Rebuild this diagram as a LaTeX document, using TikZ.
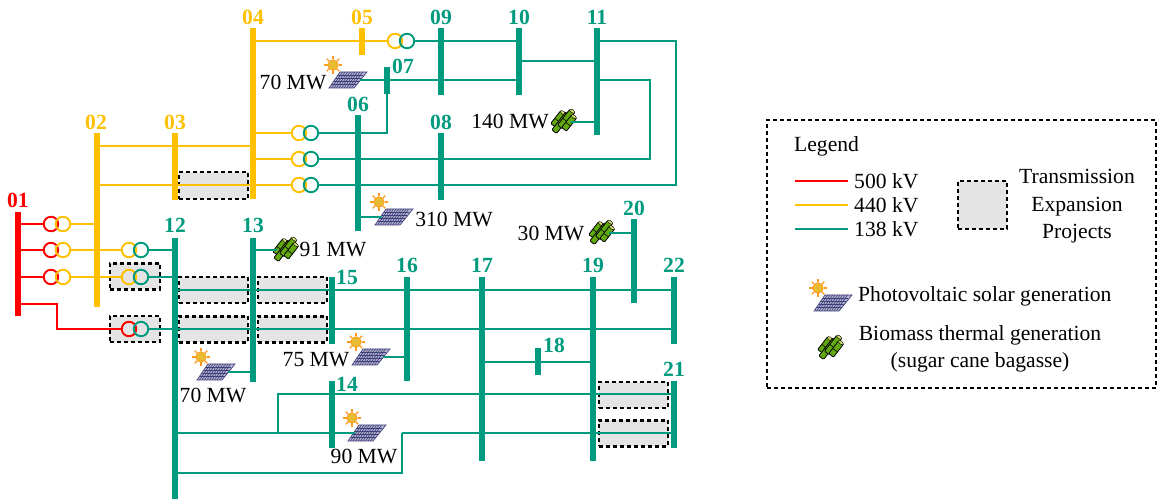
\documentclass[tikz,border=0pt]{standalone}
\usepackage{fontspec}
\setmainfont{Liberation Serif}
\usepackage{xcolor}
\usepackage{tikz}
\usetikzlibrary{shapes.geometric, arrows}
\usetikzlibrary{positioning}
\definecolor{busRed}{HTML}{FF0000}
\definecolor{busYellow}{HTML}{FFC000}
\definecolor{busTeal}{HTML}{009A7E}
\definecolor{boxGray}{HTML}{E4E4E4}
\definecolor{panelBlue}{HTML}{3E3E7C}
\definecolor{panelLight}{HTML}{B4B4CC}
\definecolor{sunOrange}{HTML}{FF9A1E}
\definecolor{sunFill}{HTML}{E8BC32}
\definecolor{caneGreen}{HTML}{62A80F}
\definecolor{caneTop}{HTML}{E4E878}
\tikzstyle{busR} = [rectangle, fill=busRed, minimum width=6, inner sep=0]
\tikzstyle{busY} = [rectangle, fill=busYellow, minimum width=6, inner sep=0]
\tikzstyle{busT} = [rectangle, fill=busTeal, minimum width=6, inner sep=0]
\tikzstyle{linkR} = [line width=2.3, busRed]
\tikzstyle{linkY} = [line width=2.3, busYellow]
\tikzstyle{linkT} = [line width=2.3, busTeal]
\tikzstyle{coilR} = [circle, draw=busRed, line width=1.9, minimum size=14.5, inner sep=0]
\tikzstyle{coilY} = [circle, draw=busYellow, line width=1.9, minimum size=14.5, inner sep=0]
\tikzstyle{coilT} = [circle, draw=busTeal, line width=1.9, minimum size=14.5, inner sep=0]
\tikzstyle{project} = [rectangle, draw=black, fill=boxGray, line width=2.1, dash pattern=on 4pt off 3pt, inner sep=0]
\tikzstyle{busName} = [font=\fontsize{21.6}{21.6}\selectfont\bfseries, inner sep=0]
\tikzstyle{power} = [font=\fontsize{21.6}{21.6}\selectfont, inner sep=0]
\tikzstyle{legendText} = [font=\fontsize{21.6}{27.5}\selectfont, inner sep=0, align=center]
\tikzset{
  solarPanel/.pic={
    \coordinate (-c) at (12,0);
    \coordinate (-d) at (-12,0);
    \draw[panelBlue, fill=panelLight, line width=0.7] (-19,8) -- (-8,-8) -- (19,-8) -- (6,8) -- cycle;
    \foreach \k in {2.5,5,...,22.5}
      \draw[panelBlue, line width=0.6] ({-19+\k},8) -- ({-8+\k},-8);
    \foreach \r in {-5,-2,1,4}
      \draw[panelBlue, line width=0.7] ({-19+(8-\r)*.6875},\r) -- ++(25.5,0);
    \foreach \a in {0,45,...,315}
      \draw[sunOrange, line width=1.1] (-15,-15) ++(\a:5.5) -- ++(\a:3.5);
    \draw[sunOrange, fill=sunFill, line width=0.8] (-15,-15) circle (5.2);
  },
  caneBundle/.pic={
    \coordinate (-c) at (8,0);
    \coordinate (-d) at (-8,0);
    \foreach \dx/\dy/\l in {-5/-3/8,-2/1/11,3/-3/10,6/1/8} {
      \begin{scope}[shift={(\dx,\dy)}, rotate=52]
        \draw[black, fill=caneGreen, line width=0.8, rounded corners=1] (-\l,-3) rectangle (\l,3);
        \draw[black, line width=0.6] (-1.5,-3) -- (-1.5,3);
        \draw[black, fill=caneTop, line width=0.5] (\l,0) ellipse (1.4 and 3);
      \end{scope}
    }
  }
}
\begin{document}
\begin{tikzpicture}[x=1pt, y=-1pt]
\useasboundingbox (0,0) rectangle (1157,502);
% expansion projects
\node (p1) [project, minimum width=69, minimum height=27] at (213.5,185.5) {};
\node (p2) [project, minimum width=50, minimum height=26] at (135,276.5) {};
\node (p3) [project, minimum width=50, minimum height=26] at (135,329) {};
\node (p4) [project, minimum width=69, minimum height=26] at (213.5,290) {};
\node (p5) [project, minimum width=69, minimum height=26] at (292.5,290) {};
\node (p6) [project, minimum width=69, minimum height=26] at (213.5,329.5) {};
\node (p7) [project, minimum width=69, minimum height=26] at (292.5,329.5) {};
\node (p8) [project, minimum width=69, minimum height=26] at (633.5,395) {};
\node (p9) [project, minimum width=69, minimum height=26] at (633.5,433.5) {};
% buses
\node (01) [busR, minimum height=104] at (18,264) {};
\node (02) [busY, minimum height=174] at (97,220) {};
\node (03) [busY, minimum height=67] at (175,166.5) {};
\node (04) [busY, minimum height=171] at (253,113.5) {};
\node (05) [busY, minimum height=27] at (362,41.5) {};
\node (06) [busT, minimum height=116] at (358,173) {};
\node (07) [busT, minimum height=27] at (387,80.5) {};
\node (08) [busT, minimum height=67] at (441,166.5) {};
\node (09) [busT, minimum height=67] at (441,61.5) {};
\node (10) [busT, minimum height=67] at (519,61.5) {};
\node (11) [busT, minimum height=107] at (597,81.5) {};
\node (12) [busT, minimum height=261] at (175,368.5) {};
\node (13) [busT, minimum height=144] at (253,310) {};
\node (14) [busT, minimum height=67] at (332,414.5) {};
\node (15) [busT, minimum height=67] at (332,310.5) {};
\node (16) [busT, minimum height=104] at (407,329) {};
\node (17) [busT, minimum height=184] at (482,369) {};
\node (18) [busT, minimum height=27] at (538,362) {};
\node (19) [busT, minimum height=184] at (593,369) {};
\node (20) [busT, minimum height=84] at (634,261) {};
\node (21) [busT, minimum height=67] at (674,414.5) {};
\node (22) [busT, minimum height=67] at (674,310.5) {};
% bus names
\node (n01) [busName, busRed] at (18,200) {01};
\foreach \n/\x/\y in {02/96/122,03/175/122,04/253/17,05/362/17}
  \node (n\n) [busName, busYellow] at (\x,\y) {\n};
\foreach \n/\x/\y in {06/358/104,07/403/66,08/441/122,09/441/17,10/519/17,11/597/17,12/175/225,13/253/225,14/347/384,15/347/277,16/407/265,17/482/265,18/554/345,19/593/265,20/634/208,21/674/369,22/674/265}
  \node (n\n) [busName, busTeal] at (\x,\y) {\n};
% generation
\pic (s1) at (348,80) {solarPanel};
\pic (s2) at (394,217) {solarPanel};
\pic (s3) at (371,357) {solarPanel};
\pic (s4) at (216,372) {solarPanel};
\pic (s5) at (367,433) {solarPanel};
\pic (b1) at (563,122) {caneBundle};
\pic (b2) at (285,250) {caneBundle};
\pic (b3) at (601,233) {caneBundle};
\node (m1) [power] at (293,82) {70 MW};
\node (m2) [power] at (454,219) {310 MW};
\node (m3) [power] at (316,360) {75 MW};
\node (m4) [power] at (213,395) {70 MW};
\node (m5) [power] at (364,456) {90 MW};
\node (m6) [power] at (510,121) {140 MW};
\node (m7) [power] at (333,250) {91 MW};
\node (m8) [power] at (551,233) {30 MW};
% transformers
\node (tAr) [coilR] at (51,224) {};
\node (tAy) [coilY] at (63,224) {};
\node (tBr) [coilR] at (51,250) {};
\node (tBy) [coilY] at (63,250) {};
\node (tCr) [coilR] at (51,277) {};
\node (tCy) [coilY] at (63,277) {};
\node (tDy) [coilY] at (129,250) {};
\node (tDt) [coilT] at (141,250) {};
\node (tEy) [coilY] at (129,277) {};
\node (tEt) [coilT] at (141,277) {};
\node (tFr) [coilR] at (129,329) {};
\node (tFt) [coilT] at (141,329) {};
\node (tGy) [coilY] at (299,133) {};
\node (tGt) [coilT] at (311,133) {};
\node (tHy) [coilY] at (299,159) {};
\node (tHt) [coilT] at (311,159) {};
\node (tIy) [coilY] at (299,185) {};
\node (tIt) [coilT] at (311,185) {};
\node (tJy) [coilY] at (395,41) {};
\node (tJt) [coilT] at (407,41) {};
\coordinate (bendF) at (57,304);
\coordinate (bendA) at (676,185);
\coordinate (bendB) at (650,159);
\coordinate (bendK) at (278,394);
\coordinate (bendL) at (402,433);
% 500 kV
\draw (01 |- tAr) [linkR] -- (tAr);
\draw (01 |- tBr) [linkR] -- (tBr);
\draw (01 |- tCr) [linkR] -- (tCr);
\draw (01 |- bendF) [linkR] -- (bendF) |- (tFr);
% 440 kV
\draw (tAy) [linkY] -- (02 |- tAy);
\draw (tBy) [linkY] -- (tDy);
\draw (tCy) [linkY] -- (tEy);
\draw (02 |- 0,146) [linkY] -- (04 |- 0,146);
\draw (02 |- tIy) [linkY] -- (tIy);
\draw (04 |- tGy) [linkY] -- (tGy);
\draw (04 |- tHy) [linkY] -- (tHy);
\draw (04 |- tJy) [linkY] -- (tJy);
% 138 kV
\draw (tDt) [linkT] -- (12 |- tDt);
\draw (tEt) [linkT] -- (12 |- tEt);
\draw (tFt) [linkT] -- (22 |- tFt);
\draw (12 |- 0,290) [linkT] -- (22 |- 0,290);
\draw (tJt) [linkT] -- (10 |- tJt);
\draw (10 |- 0,61) [linkT] -- (11 |- 0,61);
\draw (11 |- tJt) [linkT] -| (bendA) -- (tIt);
\draw (11 |- 0,80) [linkT] -| (bendB) -- (tHt);
\draw (s1-c) [linkT] -- (10 |- s1-c);
\draw (tGt) [linkT] -| (07);
\draw (06 |- s2-d) [linkT] -- (s2-d);
\draw (s3-c) [linkT] -- (16 |- s3-c);
\draw (s4-c) [linkT] -- (13 |- s4-c);
\draw (12 |- s5-d) [linkT] -- (s5-d);
\draw (b1-c) [linkT] -- (11 |- b1-c);
\draw (13 |- b2-d) [linkT] -- (b2-d);
\draw (b3-c) [linkT] -- (20 |- b3-c);
\draw (17 |- 18) [linkT] -- (19 |- 18);
\draw (bendK |- bendL) [linkT] -- (bendK) -- (21 |- bendK);
\draw (12 |- 0,473) [linkT] -| (bendL);
\draw (bendL) [linkT] -- (21 |- bendL);
% legend
\node (legend) [project, fill=none, line width=1.9, minimum width=389, minimum height=268] at (961.5,254) {};
\node (lgTitle) [legendText, anchor=west] at (794,146) {Legend};
\coordinate (lgR) at (795,181);
\coordinate (lgY) at (795,205);
\coordinate (lgT) at (795,229);
\node (lg500) [legendText, anchor=west, inner xsep=6] at (848,181) {500 kV};
\node (lg440) [legendText, anchor=west, inner xsep=6] at (848,205) {440 kV};
\node (lg138) [legendText, anchor=west, inner xsep=6] at (848,229) {138 kV};
\draw (lgR) [linkR] -- (lg500);
\draw (lgY) [linkY] -- (lg440);
\draw (lgT) [linkT] -- (lg138);
\node (lgBox) [project, minimum width=49, minimum height=48] at (982.5,205) {};
\node (lgProj) [legendText] at (1077,206.5) {Transmission\\Expansion\\Projects};
\pic (lgSolar) at (833,303) {solarPanel};
\node (lgSolarText) [legendText, anchor=west] at (858,296) {Photovoltaic solar generation};
\pic (lgCane) at (830,348) {caneBundle};
\node (lgCaneText) [legendText] at (980,349) {Biomass thermal generation\\(sugar cane bagasse)};
\end{tikzpicture}
\end{document}
